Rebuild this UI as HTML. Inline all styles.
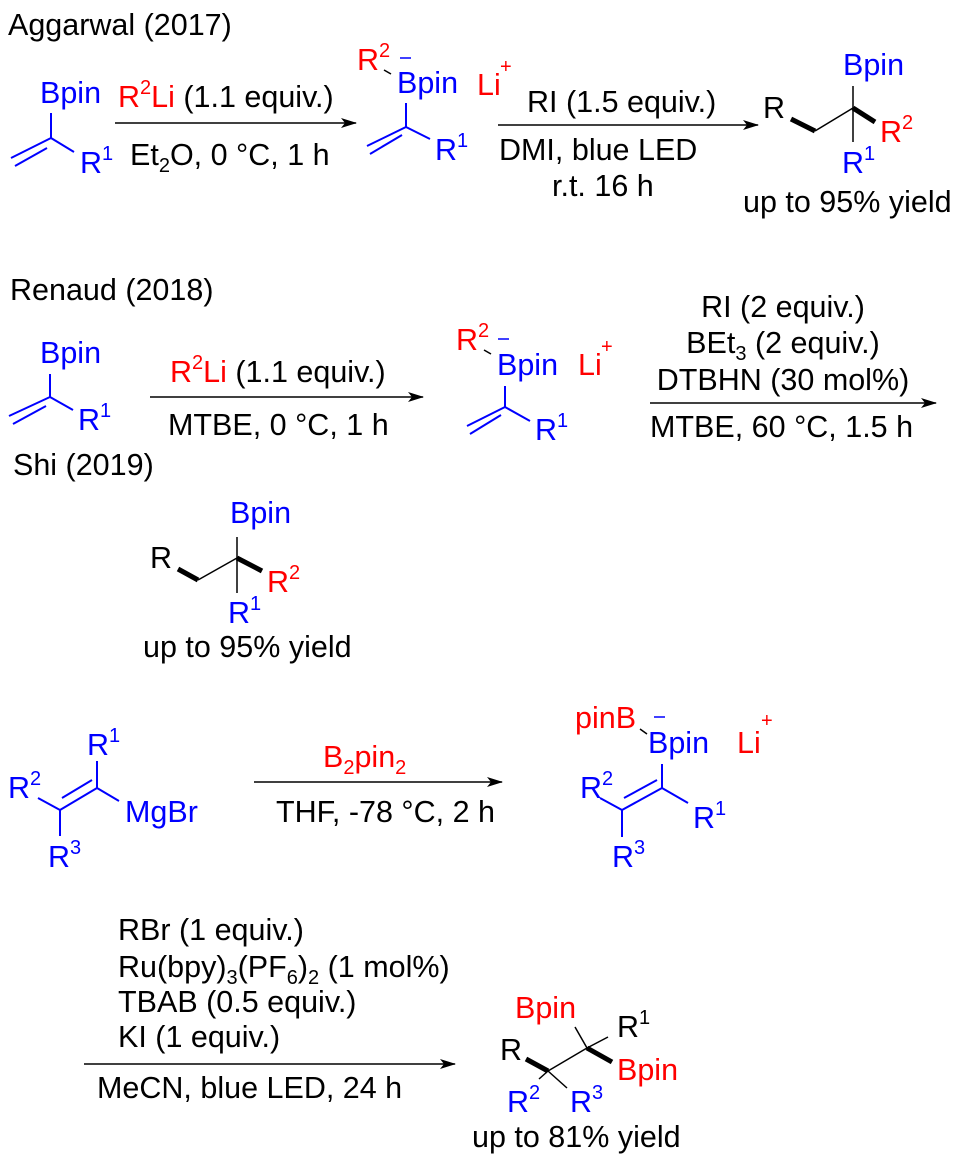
<!DOCTYPE html>
<html><head><meta charset="utf-8"><style>
html,body{margin:0;padding:0;background:#fff;}
svg{display:block;}
text{font-family:"Liberation Sans",Arial,sans-serif;font-size:30.5px;}
.b{fill:#0000ff}.r{fill:#ff0000}.k{fill:#000}
.sm{font-size:20px}
</style></head><body>
<svg width="965" height="1170" viewBox="0 0 965 1170" xmlns="http://www.w3.org/2000/svg">
<defs>
<marker id="ah" markerWidth="16" markerHeight="10" refX="15" refY="5" orient="auto" markerUnits="userSpaceOnUse">
<path d="M0,0 L16,5 L0,10 L4,5 Z" fill="#000"/></marker>
</defs>

<!-- ===== Section 1: Aggarwal ===== -->
<text x="8" y="35" class="k">Aggarwal (2017)</text>
<g stroke="#0000ff" stroke-width="2" fill="none">
<line x1="51" y1="113" x2="51" y2="138"/>
<line x1="51" y1="138" x2="11" y2="158"/>
<line x1="47" y1="148" x2="15" y2="166"/>
<line x1="51" y1="138" x2="74" y2="152"/>
</g>
<text x="40" y="103" class="b">Bpin</text>
<text x="80" y="173" class="b">R<tspan class="sm" dy="-13">1</tspan></text>
<text x="118" y="107"><tspan class="r">R</tspan><tspan class="r sm" dy="-13">2</tspan><tspan class="r" dy="13">Li</tspan><tspan class="k"> (1.1 equiv.)</tspan></text>
<line x1="115" y1="123" x2="356" y2="123" stroke="#000" stroke-width="1.5" marker-end="url(#ah)"/>
<text x="130" y="165" class="k">Et<tspan class="sm" dy="7">2</tspan><tspan dy="-7">O, 0 °C, 1 h</tspan></text>

<text x="357" y="70" class="r">R<tspan class="sm" dy="-13">2</tspan></text>
<line x1="384" y1="70" x2="391" y2="74" stroke="#000" stroke-width="1.5"/>
<line x1="400" y1="58" x2="411" y2="58" stroke="#0000ff" stroke-width="1.5"/>
<text x="397" y="93" class="b">Bpin</text>
<text x="477" y="95" class="r">Li</text>
<text x="500" y="73" class="r sm">+</text>
<g stroke="#0000ff" stroke-width="2" fill="none">
<line x1="406" y1="103" x2="406" y2="127"/>
<line x1="406" y1="127" x2="367" y2="146"/>
<line x1="402" y1="135" x2="370" y2="154"/>
<line x1="406" y1="127" x2="430" y2="139"/>
</g>
<text x="435" y="160" class="b">R<tspan class="sm" dy="-13">1</tspan></text>

<text x="527" y="112" class="k">RI (1.5 equiv.)</text>
<line x1="498" y1="125" x2="758" y2="125" stroke="#000" stroke-width="1.5" marker-end="url(#ah)"/>
<text x="499" y="160" class="k">DMI, blue LED</text>
<text x="552" y="196" class="k">r.t. 16 h</text>

<text x="763" y="118" class="k">R</text>
<line x1="791" y1="119" x2="815" y2="131" stroke="#000" stroke-width="5"/>
<line x1="815" y1="131" x2="853" y2="108" stroke="#000" stroke-width="1.5"/>
<line x1="853" y1="86" x2="853" y2="142" stroke="#000" stroke-width="1.5"/>
<line x1="853" y1="108" x2="875" y2="122" stroke="#000" stroke-width="5"/>
<text x="843" y="75" class="b">Bpin</text>
<text x="880" y="142" class="r">R<tspan class="sm" dy="-13">2</tspan></text>
<text x="842" y="173" class="b">R<tspan class="sm" dy="-13">1</tspan></text>
<text x="743" y="212" class="k">up to 95% yield</text>

<!-- ===== Section 2: Renaud / Shi ===== -->
<text x="10" y="300" class="k">Renaud (2018)</text>
<text x="40" y="363" class="b">Bpin</text>
<g stroke="#0000ff" stroke-width="2" fill="none">
<line x1="50" y1="374" x2="50" y2="397"/>
<line x1="50" y1="397" x2="9" y2="416"/>
<line x1="46" y1="406" x2="13" y2="424"/>
<line x1="50" y1="397" x2="73" y2="410"/>
</g>
<text x="78" y="430" class="b">R<tspan class="sm" dy="-13">1</tspan></text>
<text x="13" y="475" class="k">Shi (2019)</text>
<text x="170" y="382"><tspan class="r">R</tspan><tspan class="r sm" dy="-13">2</tspan><tspan class="r" dy="13">Li</tspan><tspan class="k"> (1.1 equiv.)</tspan></text>
<line x1="150" y1="397" x2="423" y2="397" stroke="#000" stroke-width="1.5" marker-end="url(#ah)"/>
<text x="168" y="435" class="k">MTBE, 0 °C, 1 h</text>

<text x="456" y="350" class="r">R<tspan class="sm" dy="-13">2</tspan></text>
<line x1="484" y1="350" x2="491" y2="354" stroke="#000" stroke-width="1.5"/>
<line x1="498" y1="339" x2="509" y2="339" stroke="#0000ff" stroke-width="1.5"/>
<text x="497" y="375" class="b">Bpin</text>
<text x="578" y="375" class="r">Li</text>
<text x="601" y="353" class="r sm">+</text>
<g stroke="#0000ff" stroke-width="2" fill="none">
<line x1="505" y1="386" x2="505" y2="407"/>
<line x1="505" y1="407" x2="467" y2="426"/>
<line x1="501" y1="415" x2="470" y2="434"/>
<line x1="505" y1="407" x2="530" y2="421"/>
</g>
<text x="535" y="440" class="b">R<tspan class="sm" dy="-13">1</tspan></text>

<text x="783" y="317" class="k" text-anchor="middle">RI (2 equiv.)</text>
<text x="783" y="353" class="k" text-anchor="middle">BEt<tspan class="sm" dy="7">3</tspan><tspan dy="-7"> (2 equiv.)</tspan></text>
<text x="783" y="390" class="k" text-anchor="middle">DTBHN (30 mol%)</text>
<line x1="650" y1="403" x2="936" y2="403" stroke="#000" stroke-width="1.5" marker-end="url(#ah)"/>
<text x="650" y="437" class="k">MTBE, 60 °C, 1.5 h</text>

<text x="150" y="568" class="k">R</text>
<line x1="178" y1="569" x2="198" y2="580" stroke="#000" stroke-width="5"/>
<line x1="198" y1="580" x2="237" y2="558" stroke="#000" stroke-width="1.5"/>
<line x1="237" y1="537" x2="237" y2="593" stroke="#000" stroke-width="1.5"/>
<line x1="237" y1="558" x2="262" y2="571" stroke="#000" stroke-width="5"/>
<text x="230" y="523" class="b">Bpin</text>
<text x="267" y="592" class="r">R<tspan class="sm" dy="-13">2</tspan></text>
<text x="228" y="623" class="b">R<tspan class="sm" dy="-13">1</tspan></text>
<text x="143" y="657" class="k">up to 95% yield</text>

<!-- ===== Section 3 ===== -->
<g stroke="#0000ff" stroke-width="2" fill="none">
<line x1="97" y1="761" x2="97" y2="788"/>
<line x1="97" y1="788" x2="60" y2="810"/>
<line x1="92" y1="780" x2="62" y2="798"/>
<line x1="38" y1="798" x2="60" y2="810"/>
<line x1="60" y1="810" x2="60" y2="836"/>
<line x1="97" y1="788" x2="119" y2="801"/>
</g>
<text x="87" y="755" class="b">R<tspan class="sm" dy="-13">1</tspan></text>
<text x="8" y="798" class="b">R<tspan class="sm" dy="-13">2</tspan></text>
<text x="125" y="822" class="b">MgBr</text>
<text x="48" y="867" class="b">R<tspan class="sm" dy="-13">3</tspan></text>

<text x="323" y="767" class="r">B<tspan class="sm" dy="7">2</tspan><tspan dy="-7">pin</tspan><tspan class="sm" dy="7">2</tspan></text>
<line x1="254" y1="782" x2="502" y2="782" stroke="#000" stroke-width="1.5" marker-end="url(#ah)"/>
<text x="276" y="822" class="k">THF, -78 °C, 2 h</text>

<text x="575" y="728" class="r">pinB</text>
<line x1="640" y1="729" x2="647" y2="734" stroke="#000" stroke-width="1.5"/>
<line x1="654" y1="717" x2="665" y2="717" stroke="#0000ff" stroke-width="1.5"/>
<text x="648" y="753" class="b">Bpin</text>
<text x="737" y="753" class="r">Li</text>
<text x="761" y="727" class="r sm">+</text>
<g stroke="#0000ff" stroke-width="2" fill="none">
<line x1="662" y1="764" x2="662" y2="788"/>
<line x1="662" y1="788" x2="622" y2="810"/>
<line x1="657" y1="780" x2="624" y2="798"/>
<line x1="600" y1="798" x2="622" y2="810"/>
<line x1="622" y1="810" x2="622" y2="837"/>
<line x1="662" y1="788" x2="688" y2="803"/>
</g>
<text x="580" y="798" class="b">R<tspan class="sm" dy="-13">2</tspan></text>
<text x="693" y="828" class="b">R<tspan class="sm" dy="-13">1</tspan></text>
<text x="612" y="867" class="b">R<tspan class="sm" dy="-13">3</tspan></text>

<!-- ===== Section 4 ===== -->
<text x="118" y="940" class="k">RBr (1 equiv.)</text>
<text x="118" y="977" class="k">Ru(bpy)<tspan class="sm" dy="7">3</tspan><tspan dy="-7">(PF</tspan><tspan class="sm" dy="7">6</tspan><tspan dy="-7">)</tspan><tspan class="sm" dy="7">2</tspan><tspan dy="-7"> (1 mol%)</tspan></text>
<text x="118" y="1012" class="k">TBAB (0.5 equiv.)</text>
<text x="118" y="1047" class="k">KI (1 equiv.)</text>
<line x1="84" y1="1064" x2="455" y2="1064" stroke="#000" stroke-width="1.5" marker-end="url(#ah)"/>
<text x="97" y="1098" class="k">MeCN, blue LED, 24 h</text>

<text x="500" y="1060" class="k">R</text>
<line x1="526" y1="1059" x2="548" y2="1071" stroke="#000" stroke-width="5"/>
<line x1="548" y1="1071" x2="587" y2="1048" stroke="#000" stroke-width="1.5"/>
<line x1="575" y1="1027" x2="587" y2="1048" stroke="#000" stroke-width="1.5"/>
<line x1="587" y1="1048" x2="608" y2="1037" stroke="#000" stroke-width="1.5"/>
<line x1="587" y1="1048" x2="612" y2="1062" stroke="#000" stroke-width="5"/>
<line x1="548" y1="1071" x2="539" y2="1079" stroke="#000" stroke-width="1.5"/>
<line x1="548" y1="1071" x2="567" y2="1088" stroke="#000" stroke-width="1.5"/>
<text x="515" y="1018" class="r">Bpin</text>
<text x="617" y="1037" class="k">R<tspan class="sm" dy="-13">1</tspan></text>
<text x="617" y="1080" class="r">Bpin</text>
<text x="507" y="1112" class="b">R<tspan class="sm" dy="-13">2</tspan></text>
<text x="570" y="1112" class="b">R<tspan class="sm" dy="-13">3</tspan></text>
<text x="472" y="1147" class="k">up to 81% yield</text>
</svg>
</body></html>
